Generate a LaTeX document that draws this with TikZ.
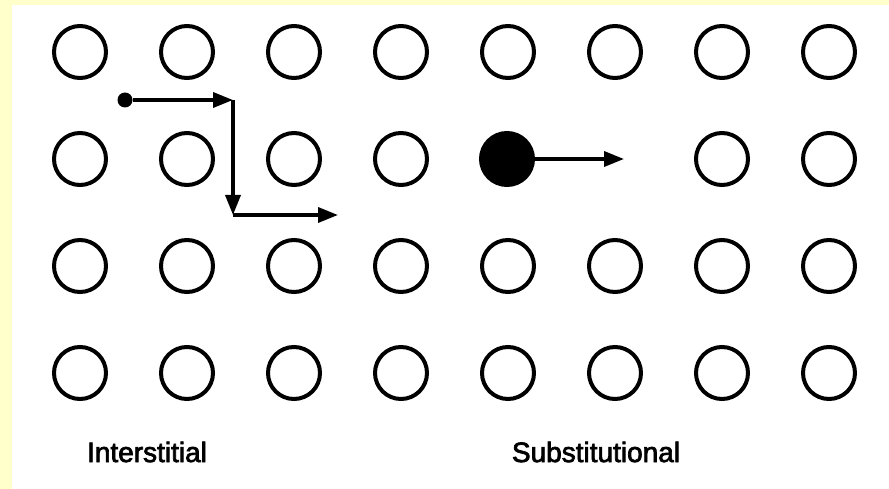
\documentclass[tikz,border=0pt]{standalone}
\usepackage{fontspec}
\setmainfont{Liberation Sans}
\newfontfamily\captionfont{Liberation Sans}[FakeBold=2.5]
\usetikzlibrary{arrows.meta}
\definecolor{paper}{HTML}{FFFFCC}
\tikzset{
  atom/.style={draw, circle, line width=4pt, minimum size=52pt, inner sep=0pt},
  solute/.style={atom, fill=black},
  hop/.style={-{Triangle[length=20pt,width=15pt]}, line width=3.5pt},
  caption/.style={font=\captionfont\fontsize{28}{32}\selectfont}
}
\begin{document}
\begin{tikzpicture}[x=1pt,y=-1pt]
\fill[paper] (0,0) rectangle (889,489);
\fill[white] (12,5) rectangle (889,489);
\useasboundingbox (0,0) rectangle (889,489);

% lattice
\foreach \r in {1,3,4}{
  \foreach \c in {1,...,8}{
    \node[atom] (a-\r-\c) at ({80+107*(\c-1)},{52+107*(\r-1)}) {};
  }
}
\foreach \c in {1,2,3,4,7,8}{
  \node[atom] (a-2-\c) at ({80+107*(\c-1)},159) {};
}

% interstitial
\node[circle, fill=black, inner sep=0pt, minimum size=15pt] (dot) at (125,100) {};
\coordinate (k1) at (233,100);
\coordinate (k2) at (233,215);
\coordinate (k3) at (338,215);
\draw[hop] (dot) -- (k1);
\draw[hop] (k1) -- (k2);
\draw[hop] (k2) -- (k3);

% substitutional
\node[solute] (sub) at (507,159) {};
\coordinate (sub-end) at (624,159);
\draw[hop] (sub) -- (sub-end);

\node[caption] (lbl-int) at (147,452) {Interstitial};
\node[caption] (lbl-sub) at (596,452) {Substitutional};
\end{tikzpicture}
\end{document}
